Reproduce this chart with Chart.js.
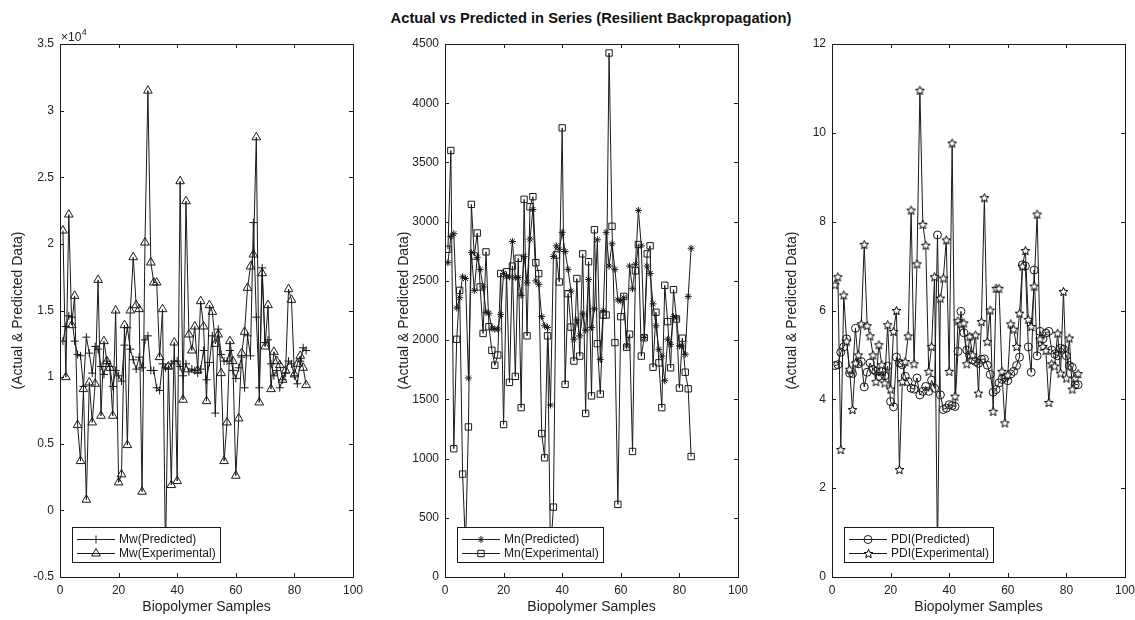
<!DOCTYPE html>
<html><head><meta charset="utf-8">
<script src="https://cdn.jsdelivr.net/npm/chart.js"></script>
<style>
html,body{margin:0;padding:0;background:#fff;overflow:hidden;width:1135px;height:620px;position:relative;}
#title{position:absolute;left:291px;width:600px;top:10px;text-align:center;font:bold 14.7px "Liberation Sans",Arial,sans-serif;color:#111;line-height:17px;}
canvas{position:absolute;top:0;}
</style></head><body>
<div id="title">Actual vs Predicted in Series (Resilient Backpropagation)</div>
<canvas id="c1" width="400" height="620" style="left:0px"></canvas>
<canvas id="c2" width="400" height="620" style="left:385px"></canvas>
<canvas id="c3" width="400" height="620" style="left:772px"></canvas>
<script>
// ---------- data ----------
const samples = [1,2,3,4,5,6,7,8,9,10,11,12,13,14,15,16,17,18,19,20,21,22,23,24,25,26,27,28,29,30,31,32,33,34,35,36,37,38,39,40,41,42,43,44,45,46,47,48,49,50,51,52,53,54,55,56,57,58,59,60,61,62,63,64,65,66,67,68,69,70,71,72,73,74,75,76,77,78,79,80,81,82,83,84];

const mwPredicted = [12700,13800,14600,14500,12700,11700,11600,9300,13000,11800,10300,12300,12100,10800,10200,11200,10800,9300,10500,10100,9700,12400,13700,12100,11300,10600,11500,10700,12800,13100,10500,10500,9200,9000,11000,10700,10600,11000,11200,11200,10800,10100,11000,10400,10600,10500,10300,10600,12000,9800,11100,13100,7300,13600,11700,11200,11200,12000,10500,9900,10700,11500,9200,13100,11600,21600,14500,9200,18200,12600,12800,11000,10100,10500,9200,9800,10300,11200,11000,10100,9500,11200,12200,12000];
const mwExperimental = [21000,10000,22200,13900,16100,6400,3700,9100,800,9600,6600,9500,17300,7100,12700,11200,10700,7100,15000,2100,2700,13900,4900,15000,19000,15400,15100,1400,20100,31500,18600,17100,17100,11500,15100,-3500,10800,1900,12600,2200,24700,8300,23200,13200,12000,13800,10500,15700,13800,8200,15400,14900,12500,13200,10300,3700,6600,12700,11200,2600,6900,11800,13400,16700,18300,19200,28000,8100,17800,12300,15400,9100,11900,11200,10900,9800,10500,16600,15800,10200,11000,11600,10700,9400];

const mnPredicted = [2654,2875,2898,2272,2358,2534,2520,1680,2739,2420,2699,2597,2449,2235,2227,2101,2093,2093,2215,2563,2534,2534,2833,2528,2528,2378,2705,2483,2853,3103,2500,2471,2198,2121,2107,1452,2705,2796,2767,2910,2748,2597,2414,2008,2170,2036,2221,2084,2511,2107,2264,2847,1837,2249,2910,2625,2813,2597,2340,2330,2358,1951,2625,2434,2640,3095,2796,2022,2625,2562,2306,2121,1922,1865,1657,2008,1965,2198,2187,1951,1951,1880,2369,2776];
const mnExperimental = [2767,3601,1083,2007,2420,869,250,1267,3146,2710,2904,2449,2056,2745,2113,1914,1788,1874,2562,1287,2577,1643,2625,1694,2691,1430,3189,2036,3126,3211,2654,2562,1211,1006,2036,200,590,2719,2491,3792,1626,2392,2110,1823,2520,1865,2728,1381,2662,1529,2932,1970,1544,2212,2212,4424,2961,1979,613,2198,2369,1940,2050,1060,2585,2807,1865,2020,2728,2796,1771,2235,1808,1430,2463,2156,1766,2426,2178,1595,2016,1729,1589,1017];

const pdiPredicted = [4.76,4.78,5.06,5.18,5.36,4.59,4.58,5.60,4.80,4.85,4.28,4.61,4.82,4.67,4.63,4.52,4.63,4.53,4.75,3.95,3.83,4.95,4.82,4.78,4.52,4.40,4.25,4.23,4.48,4.10,4.18,4.29,4.18,4.43,4.25,7.70,4.10,3.77,3.80,3.88,3.86,3.84,5.08,5.98,5.50,5.11,5.00,4.89,4.85,4.81,4.90,4.91,4.77,4.56,4.16,4.22,4.37,4.45,4.49,4.42,4.57,4.63,4.76,4.95,7.03,7.00,5.18,4.61,6.91,4.98,5.53,5.36,5.49,5.53,5.11,5.02,4.98,5.15,5.13,4.98,4.76,4.72,4.33,4.33];
const pdiExperimental = [6.58,6.76,2.87,6.35,5.31,4.68,3.77,4.82,5.00,5.70,7.49,5.66,5.43,5.00,4.40,5.23,4.78,4.37,5.68,4.23,5.53,6.00,2.42,4.40,4.85,5.43,8.26,4.80,7.05,10.96,7.94,7.47,4.63,5.19,6.76,0.50,6.28,6.73,7.59,4.63,9.77,4.07,5.77,5.70,5.72,4.80,5.42,5.00,5.45,4.14,5.75,8.54,5.30,6.01,3.73,6.50,6.50,4.63,3.47,4.55,5.70,5.58,5.19,5.94,7.00,7.35,5.80,5.64,6.55,8.17,5.36,5.19,5.10,3.93,4.80,4.75,5.49,4.59,6.43,4.48,5.38,4.23,4.48,4.58];

const xTicks = {min: 0, max: 100, step: 20};
const mwTicks = {min: -5000, max: 35000, step: 5000};
const mnTicks = {min: 0, max: 4500, step: 500};
const pdiTicks = {min: 0, max: 12, step: 2};

const seriesNames = {
  mw: ['Mw(Predicted)', 'Mw(Experimental)'],
  mn: ['Mn(Predicted)', 'Mn(Experimental)'],
  pdi: ['PDI(Predicted)', 'PDI(Experimental)']
};

// ---------- styling ----------
const FONT = '"Liberation Sans", Arial, sans-serif';
const INK = '#1a1a1a';
Chart.defaults.font.family = FONT;
Chart.defaults.font.size = 12;
Chart.defaults.color = '#222';

// pentagram marker image
function makePentagram(size) {
  const c = document.createElement('canvas');
  c.width = size; c.height = size;
  const g = c.getContext('2d');
  const cx = size / 2, cy = size / 2 + 0.5, R = size / 2 - 0.9, r = R * 0.45;
  g.beginPath();
  for (let k = 0; k < 10; k++) {
    const a = -Math.PI / 2 + k * Math.PI / 5;
    const rr = k % 2 === 0 ? R : r;
    const px = cx + rr * Math.cos(a), py = cy + rr * Math.sin(a);
    if (k === 0) g.moveTo(px, py); else g.lineTo(px, py);
  }
  g.closePath();
  g.fillStyle = '#fff';
  g.fill();
  g.strokeStyle = '#000'; g.lineWidth = 1;
  g.stroke();
  return c;
}
const pentagram = makePentagram(11);

function drawMarker(ctx, style, radius, x, y) {
  ctx.save();
  ctx.strokeStyle = INK; ctx.fillStyle = 'rgba(0,0,0,0)'; ctx.lineWidth = 1;
  if (style instanceof HTMLCanvasElement) {
    ctx.drawImage(style, Math.round(x - style.width / 2), Math.round(y - style.height / 2));
  } else if (Chart.helpers && Chart.helpers.drawPoint) {
    Chart.helpers.drawPoint(ctx, {pointStyle: style, radius: radius, rotation: 0, borderWidth: 1}, x, y);
  }
  ctx.restore();
}

const matlabPlugin = {
  id: 'matlabAxes',
  afterDatasetsDraw(chart, args, opts) {
    const ctx = chart.ctx, ca = chart.chartArea;
    const xs = chart.scales.x, ys = chart.scales.y;
    ctx.save();
    ctx.strokeStyle = INK; ctx.lineWidth = 1;
    // box
    ctx.strokeRect(Math.round(ca.left) + 0.5, Math.round(ca.top) + 0.5,
      Math.round(ca.right - ca.left), Math.round(ca.bottom - ca.top));
    // inward ticks
    const TL = 4;
    ctx.beginPath();
    xs.ticks.forEach(t => {
      const px = Math.round(xs.getPixelForValue(t.value)) + 0.5;
      ctx.moveTo(px, ca.bottom); ctx.lineTo(px, ca.bottom - TL);
      ctx.moveTo(px, ca.top); ctx.lineTo(px, ca.top + TL);
    });
    ys.ticks.forEach(t => {
      const py = Math.round(ys.getPixelForValue(t.value)) + 0.5;
      ctx.moveTo(ca.left, py); ctx.lineTo(ca.left + TL, py);
      ctx.moveTo(ca.right, py); ctx.lineTo(ca.right - TL, py);
    });
    ctx.stroke();

    // exponent label
    if (opts.exponent) {
      ctx.fillStyle = '#222';
      ctx.textBaseline = 'alphabetic';
      ctx.font = '12px ' + FONT;
      ctx.fillText('\u00d710', ca.left + 1, ca.top - 3);
      const w = ctx.measureText('\u00d710').width;
      ctx.font = '9px ' + FONT;
      ctx.fillText(opts.exponent, ca.left + 1 + w + 0.5, ca.top - 9);
    }

    // legend inside plot
    const items = chart.data.datasets.slice().sort((a, b) => a.legendIndex - b.legendIndex);
    ctx.font = '12px ' + FONT;
    const tw = Math.max(...items.map(d => ctx.measureText(d.label).width));
    const lx = Math.round(ca.left) + 12, ly = Math.round(ca.bottom) - 50;
    const lw = Math.round(47 + tw + 4), lh = 35;
    ctx.fillStyle = '#fff';
    ctx.fillRect(lx, ly, lw, lh);
    ctx.strokeStyle = INK;
    ctx.strokeRect(lx + 0.5, ly + 0.5, lw, lh);
    items.forEach((d, k) => {
      const yy = ly + 12 + k * 14;
      ctx.beginPath();
      ctx.strokeStyle = INK; ctx.lineWidth = 1;
      ctx.moveTo(lx + 5, yy + 0.5); ctx.lineTo(lx + 43, yy + 0.5);
      ctx.stroke();
      drawMarker(ctx, d.pointStyle, d.pointRadius, lx + 24, yy + 0.5);
      ctx.fillStyle = '#1a1a1a';
      ctx.textBaseline = 'middle';
      ctx.font = '12px ' + FONT;
      ctx.fillText(d.label, lx + 47, yy + 1);
    });
    ctx.restore();
  }
};

function series(label, values, style, radius, order, legendIndex) {
  return {
    label: label,
    data: samples.map((s, i) => ({x: s, y: values[i]})),
    borderColor: INK, borderWidth: 1, tension: 0, fill: false,
    pointStyle: style, pointRadius: radius, pointHoverRadius: radius,
    pointBorderColor: INK, pointBackgroundColor: 'rgba(0,0,0,0)', pointBorderWidth: 1,
    order: order, legendIndex: legendIndex
  };
}

function makeChart(id, names, pred, exp, predStyle, predR, expStyle, expR, yt, tickFmt, yTitlePad, exponent) {
  return new Chart(document.getElementById(id), {
    type: 'line',
    data: {datasets: [
      series(names[0], pred, predStyle, predR, 1, 0),
      series(names[1], exp, expStyle, expR, 0, 1)
    ]},
    options: {
      responsive: false, animation: false, events: [],
      layout: {padding: {top: 44, right: 47, left: 0, bottom: 0}},
      plugins: {legend: {display: false}, tooltip: {enabled: false}, matlabAxes: {exponent: exponent}},
      scales: {
        x: {
          type: 'linear', min: xTicks.min, max: xTicks.max,
          ticks: {stepSize: xTicks.step, padding: 6, color: '#222', font: {size: 12}, maxRotation: 0},
          grid: {display: false, drawTicks: false}, border: {display: false},
          title: {display: true, text: 'Biopolymer Samples', color: '#222', font: {size: 14}, padding: {top: 0, bottom: 4}},
          afterFit: s => { s.height = 43; }
        },
        y: {
          type: 'linear', min: yt.min, max: yt.max,
          ticks: {stepSize: yt.step, padding: 6, color: '#222', font: {size: 12}, callback: tickFmt},
          grid: {display: false, drawTicks: false}, border: {display: false},
          title: {display: true, text: '(Actual & Predicted Data)', color: '#222', font: {size: 14}, padding: {top: yTitlePad, bottom: 0}},
          afterFit: s => { s.width = 60; }
        }
      }
    },
    plugins: [matlabPlugin]
  });
}

makeChart('c1', seriesNames.mw, mwPredicted, mwExperimental, 'cross', 4, 'triangle', 5, mwTicks,
  v => String(Math.round(v / 1000) / 10), 10, '4');
makeChart('c2', seriesNames.mn, mnPredicted, mnExperimental, 'star', 3.5, 'rect', 4.5, mnTicks,
  v => String(v), 11, null);
makeChart('c3', seriesNames.pdi, pdiPredicted, pdiExperimental, 'circle', 4, pentagram, 4, pdiTicks,
  v => String(v), 12, null);
</script>
</body></html>
